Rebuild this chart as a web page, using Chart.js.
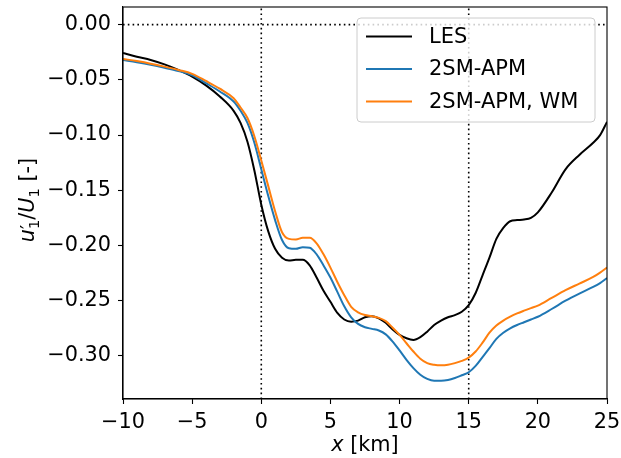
<!DOCTYPE html>
<html>
<head>
<meta charset="utf-8">
<script src="https://cdn.jsdelivr.net/npm/chart.js@4.4.0/dist/chart.umd.min.js"></script>
<style>
  html, body { margin: 0; padding: 0; background: #fff; }
</style>
</head>
<body>
<canvas id="chart" width="621" height="458"></canvas>
<script>
"use strict";

// distance along the flow [km]
const xKm = [-10, -9, -8, -7, -6, -5, -4, -3, -2, -1.5, -1, -0.5,
  0, 0.5, 1, 1.5, 2, 2.5, 3, 3.5, 4, 4.5, 5, 5.5, 6, 6.5, 7, 7.5, 8, 8.5,
  9, 9.5, 10, 10.5, 11, 11.5, 12, 12.5, 13, 13.5, 14, 14.5, 15, 15.5, 16,
  16.5, 17, 17.5, 18, 18.5, 19, 19.5, 20, 21, 22, 23, 24, 24.5, 25];

const les = [-0.0256, -0.029, -0.032, -0.036, -0.041, -0.047, -0.055, -0.065, -0.078, -0.089, -0.106, -0.132,
  -0.163, -0.187, -0.203, -0.211, -0.2135, -0.213, -0.213, -0.218, -0.229, -0.241, -0.251, -0.261, -0.267, -0.269, -0.268, -0.265, -0.264, -0.266,
  -0.27, -0.276, -0.281, -0.284, -0.2855, -0.283, -0.278, -0.272, -0.268, -0.265, -0.263, -0.26, -0.254, -0.243, -0.227,
  -0.211, -0.194, -0.184, -0.178, -0.177, -0.1765, -0.175, -0.17, -0.152, -0.131, -0.118, -0.107, -0.1, -0.088];

const apm = [-0.032, -0.034, -0.0363, -0.039, -0.042, -0.0458, -0.053, -0.0605, -0.0696, -0.078, -0.089, -0.107,
  -0.131, -0.155, -0.177, -0.195, -0.2025, -0.203, -0.2015, -0.202, -0.208, -0.218, -0.229, -0.242, -0.255, -0.265, -0.271, -0.274, -0.2755, -0.277,
  -0.2805, -0.287, -0.295, -0.3035, -0.311, -0.317, -0.3208, -0.3225, -0.3225, -0.3218, -0.32, -0.3175, -0.3148, -0.309, -0.301,
  -0.293, -0.2845, -0.279, -0.275, -0.272, -0.2695, -0.267, -0.2645, -0.2575, -0.25, -0.2435, -0.2375, -0.234, -0.2295];

const apmWm = [-0.031, -0.033, -0.0353, -0.038, -0.041, -0.0445, -0.051, -0.058, -0.0666, -0.075, -0.0845, -0.101,
  -0.123, -0.146, -0.169, -0.188, -0.194, -0.1945, -0.193, -0.193, -0.198, -0.208, -0.22, -0.233, -0.245, -0.2555, -0.2605, -0.263, -0.264, -0.2655,
  -0.2685, -0.2745, -0.281, -0.2885, -0.296, -0.3025, -0.3065, -0.308, -0.3085, -0.308, -0.3065, -0.3045, -0.3015, -0.296, -0.288,
  -0.279, -0.2725, -0.268, -0.2645, -0.2615, -0.259, -0.2567, -0.2545, -0.2475, -0.2405, -0.2345, -0.2285, -0.2245, -0.22];

const seriesNames = ["LES", "2SM-APM", "2SM-APM, WM"];
const seriesColors = ["#000000", "#1f77b4", "#ff7f0e"];

const xTicks = [-10, -5, 0, 5, 10, 15, 20, 25];
const yTicks = [-0.3, -0.25, -0.2, -0.15, -0.1, -0.05, 0];
const xLimits = [-10, 25];
const yLimits = [-0.339, 0.016];

// dotted reference lines
const refX = [0, 15];
const refY = [0];

const FONT = '"DejaVu Sans", sans-serif';
const FONT_SIZE = 20.8;

function toPoints(ys) {
  return xKm.map((x, i) => ({ x: x, y: ys[i] }));
}

function minus(s) {
  return s.replace("-", "\u2212");
}

const datasets = [les, apm, apmWm].map((ys, i) => ({
  label: seriesNames[i],
  data: toPoints(ys),
  borderColor: seriesColors[i],
  borderWidth: 2,
  pointRadius: 0,
  fill: false,
  cubicInterpolationMode: "monotone",
  order: 3 - i,
}));

refX.forEach((v) => {
  datasets.push({
    label: "",
    ref: true,
    data: [{ x: v, y: yLimits[0] }, { x: v, y: yLimits[1] }],
    borderColor: "#000",
    borderWidth: 1.6,
    borderDash: [1.6, 3.2],
    pointRadius: 0,
    order: 10,
  });
});
refY.forEach((v) => {
  datasets.push({
    label: "",
    ref: true,
    data: [{ x: xLimits[0], y: v }, { x: xLimits[1], y: v }],
    borderColor: "#000",
    borderWidth: 1.6,
    borderDash: [1.6, 3.2],
    pointRadius: 0,
    order: 10,
  });
});

// text with italic letters and subscripts, like matplotlib mathtext
function drawRich(ctx, parts, x, y, align) {
  let total = 0;
  parts.forEach((p) => {
    ctx.font = (p.it ? "italic " : "") + FONT_SIZE * (p.scale || 1) + "px " + FONT;
    p.w = ctx.measureText(p.t).width;
    if (!p.stack) total += p.w;
  });
  let cx = align === "center" ? x - total / 2 : x;
  parts.forEach((p) => {
    ctx.font = (p.it ? "italic " : "") + FONT_SIZE * (p.scale || 1) + "px " + FONT;
    ctx.fillText(p.t, cx, y + (p.dy || 0) * FONT_SIZE);
    if (!p.stack) cx += p.w;
  });
}

const decorPlugin = {
  id: "decor",
  afterDatasetsDraw(chart) {
    const ctx = chart.ctx;
    const a = chart.chartArea;
    ctx.save();
    // frame
    ctx.strokeStyle = "#000";
    ctx.lineWidth = 1.1;
    ctx.strokeRect(a.left, a.top, a.right - a.left, a.bottom - a.top);

    // legend box
    const bw = 238, bh = 104;
    const bx = a.right - 12 - bw, by = a.top + 11;
    ctx.beginPath();
    ctx.roundRect(bx, by, bw, bh, 4);
    ctx.fillStyle = "rgba(255,255,255,0.8)";
    ctx.fill();
    ctx.strokeStyle = "#cccccc";
    ctx.lineWidth = 1;
    ctx.stroke();
    ctx.font = "21px " + FONT;
    ctx.textBaseline = "middle";
    ctx.textAlign = "left";
    chart.data.datasets.forEach((ds, i) => {
      if (ds.ref) return;
      const ry = by + 18.4 + i * 32.5;
      ctx.beginPath();
      ctx.moveTo(bx + 9, ry);
      ctx.lineTo(bx + 55, ry);
      ctx.strokeStyle = ds.borderColor;
      ctx.lineWidth = 2;
      ctx.stroke();
      ctx.fillStyle = "#000";
      ctx.fillText(ds.label, bx + 72, ry + 1);
    });

    // axis titles
    ctx.fillStyle = "#000";
    ctx.textBaseline = "alphabetic";
    ctx.textAlign = "left";
    drawRich(ctx, [{ t: "x", it: true }, { t: " [km]" }], (a.left + a.right) / 2, 451, "center");

    ctx.translate(34, (a.top + a.bottom) / 2 - 3);
    ctx.rotate(-Math.PI / 2);
    drawRich(ctx, [
      { t: "u", it: true },
      { t: "\u2032", scale: 0.9, dy: -0.02, stack: true },
      { t: "1", scale: 0.7, dy: 0.22 },
      { t: "/" },
      { t: "U", it: true },
      { t: "1", scale: 0.7, dy: 0.22 },
      { t: " [-]" },
    ], 0, 0, "center");
    ctx.restore();
  },
};

new Chart(document.getElementById("chart"), {
  type: "line",
  data: { datasets: datasets },
  options: {
    responsive: false,
    animation: false,
    devicePixelRatio: 1,
    layout: { padding: { top: 7, right: 14, left: 0, bottom: 0 } },
    plugins: { legend: { display: false }, tooltip: { enabled: false } },
    scales: {
      x: {
        type: "linear",
        min: xLimits[0],
        max: xLimits[1],
        afterFit(s) {
          s.height = 59;
          s.paddingLeft = 0;
          s.paddingRight = 0;
        },
        afterBuildTicks(s) { s.ticks = xTicks.map((v) => ({ value: v })); },
        grid: { drawOnChartArea: false, color: "#000", tickLength: 5, tickWidth: 1.1 },
        border: { display: true, color: "#000", width: 1.1 },
        ticks: {
          color: "#000",
          padding: 6,
          maxRotation: 0,
          font: { family: FONT, size: FONT_SIZE },
          callback: (v) => minus(String(v)),
        },
      },
      y: {
        type: "linear",
        min: yLimits[0],
        max: yLimits[1],
        afterFit(s) {
          s.width = 123;
          s.paddingTop = 0;
          s.paddingBottom = 0;
        },
        afterBuildTicks(s) { s.ticks = yTicks.map((v) => ({ value: v })); },
        grid: { drawOnChartArea: false, color: "#000", tickLength: 5, tickWidth: 1.1 },
        border: { display: true, color: "#000", width: 1.1 },
        ticks: {
          color: "#000",
          padding: 7,
          font: { family: FONT, size: FONT_SIZE },
          callback: (v) => minus(v.toFixed(2)),
        },
      },
    },
  },
  plugins: [decorPlugin],
});
</script>
</body>
</html>
